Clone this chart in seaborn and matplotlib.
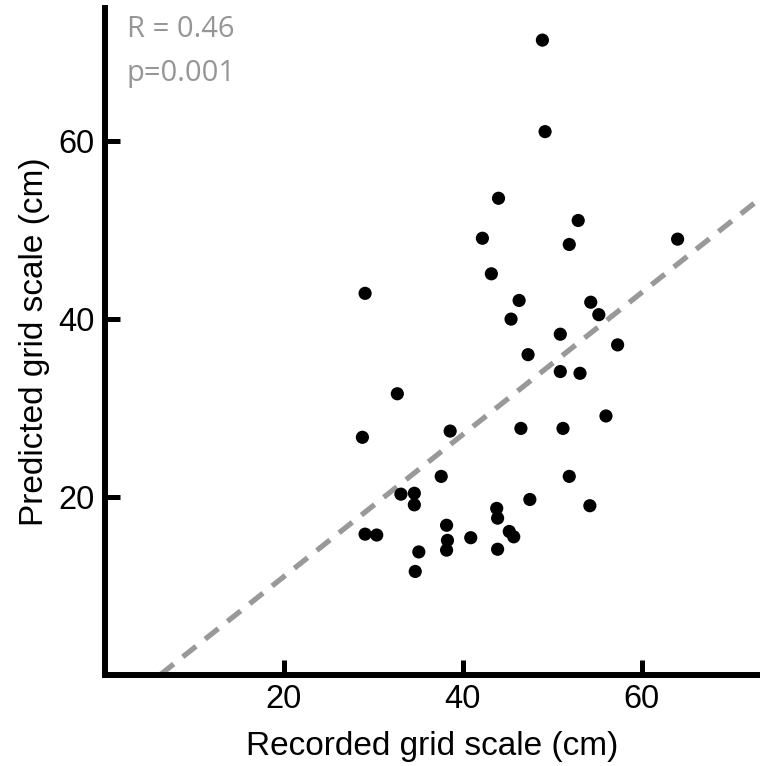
import numpy as np
import pandas as pd
import matplotlib
matplotlib.use("Agg")
import matplotlib.pyplot as plt
import seaborn as sns

# values
recorded = [48.9, 49.2, 44.0, 52.9, 42.2, 51.9, 64.0, 43.2, 29.1, 46.3, 54.3,
            55.2, 45.4, 50.9, 57.3, 47.3, 50.9, 53.1, 32.7, 56.0, 28.8, 38.6,
            46.5, 51.2, 37.6, 51.9, 33.1, 34.6, 34.6, 47.5, 54.2, 43.8, 43.9,
            38.2, 29.1, 30.4, 45.2, 45.7, 40.9, 38.3, 38.2, 35.1, 43.9, 34.7]
predicted = [71.4, 61.1, 53.6, 51.1, 49.1, 48.4, 49.0, 45.1, 42.9, 42.1, 41.9,
             40.5, 40.0, 38.3, 37.1, 36.0, 34.1, 33.9, 31.6, 29.1, 26.7, 27.4,
             27.7, 27.7, 22.3, 22.3, 20.3, 20.4, 19.1, 19.7, 19.0, 18.7, 17.6,
             16.8, 15.8, 15.7, 16.1, 15.5, 15.4, 15.1, 14.0, 13.8, 14.1, 11.6]
fit_slope = 0.80
fit_intercept = -5.0
stats_text = ["R = 0.46", "p=0.001"]

df = pd.DataFrame({"recorded": recorded, "predicted": predicted})

sns.set_style("ticks", {"axes.edgecolor": "black", "text.color": "black",
                        "xtick.color": "black", "ytick.color": "black",
                        "axes.labelcolor": "black"})
plt.rcParams["font.family"] = ["Liberation Sans", "DejaVu Sans"]

fig = plt.figure(figsize=(7.6, 7.66), dpi=100)
ax = fig.add_axes([0.1375, 0.1194, 0.8625, 0.870])

# regression line
ax.axline((0, fit_intercept), slope=fit_slope, color="#999999", lw=3.8,
          ls=(0, (3.2, 2.2)), zorder=1)
sns.scatterplot(data=df, x="recorded", y="predicted", color="black", s=90,
                edgecolor="none", ax=ax, zorder=2)

ax.set_xlim(0, 73.2)
ax.set_ylim(0, 75)
ax.set_xticks([20, 40, 60])
ax.set_yticks([20, 40, 60])
sns.despine(ax=ax)
for side in ["left", "bottom"]:
    ax.spines[side].set_linewidth(4.3)
    ax.spines[side].set_color("black")
ax.tick_params(direction="in", length=11, width=3.6, labelsize=23.5, pad=7,
               colors="black")

ax.set_xlabel("Recorded grid scale (cm)", fontsize=24, labelpad=11)
ax.set_ylabel("Predicted grid scale (cm)", fontsize=24, labelpad=6)

ax.text(2.5, 71.7, stats_text[0], fontsize=21, color="#969696",
        family="Open Sans", va="baseline")
ax.text(2.5, 66.8, stats_text[1], fontsize=21, color="#969696",
        family="Open Sans", va="baseline")

fig.savefig("out.png", dpi=100)
